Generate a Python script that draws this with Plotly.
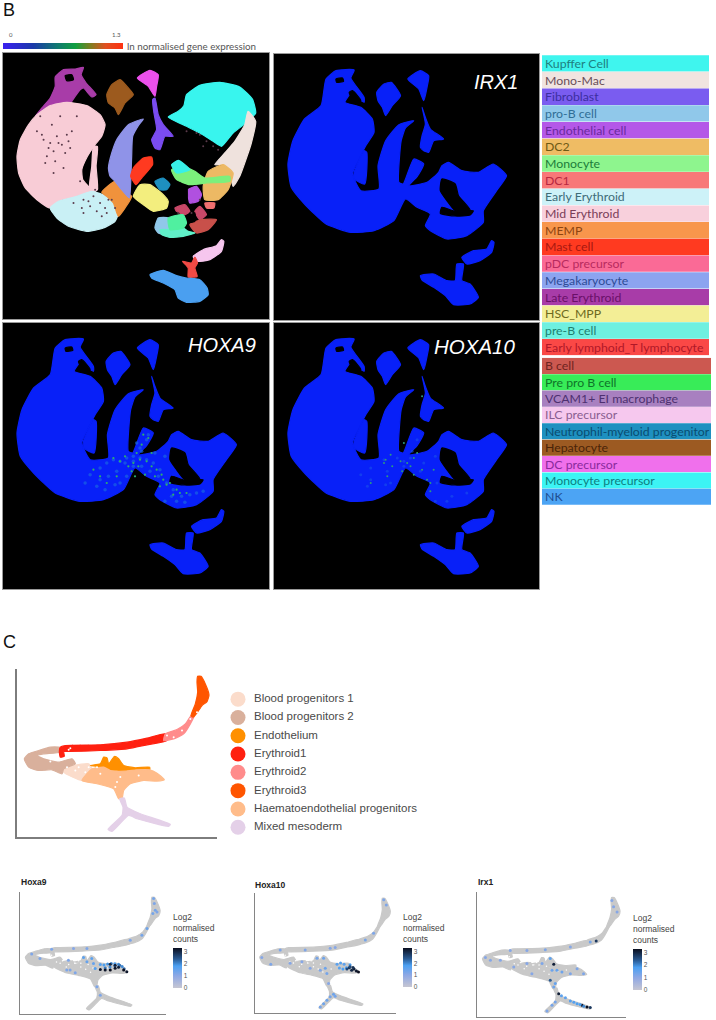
import plotly.graph_objects as go

PAGE_W = 716
PAGE_H = 1020

# ---- panel B, coloured map: outlines
kupffer = [(505,352),(535,335),(552,318),(560,285),(600,257),(660,248),(720,262),(758,298),(768,340),(745,365),(700,400),(665,440),(640,425),(600,400),(560,380)]
mono_mac = [(745,335),(768,365),(755,430),(742,470),(720,530),(700,560),(690,520),(670,495),(645,495),(675,460),(705,425),(735,375)]
fibroblast = [(455,420),(470,390),(462,340),(458,300),(465,295),(475,345),(490,375),(520,410),(495,410),(480,450),(465,445)]
pro_b = [(465,685),(475,655),(505,655),(510,690),(495,705),(475,700)]
endothelial = [(565,570),(590,560),(605,585),(595,605),(570,610)]
dc2 = [(610,560),(625,515),(670,495),(700,520),(685,570),(655,600),(615,600)]
monocyte = [(515,510),(550,500),(585,515),(615,535),(690,530),(690,545),(620,550),(570,555),(530,540)]
dc1 = [(615,610),(645,610),(642,625),(620,625)]
early_ery = [(150,625),(175,605),(230,590),(275,575),(320,590),(340,610),(355,640),(345,665),(310,685),(260,695),(205,680),(170,655)]
mid_ery = [(110,345),(150,318),(200,308),(260,318),(300,345),(315,375),(305,410),(285,435),(262,470),(245,510),(248,540),(275,575),(230,590),(175,605),(150,625),(110,600),(75,565),(55,520),(50,470),(60,420),(85,375)]
mid_ery_strip = [(280,440),(292,440),(288,500),(292,570),(275,580),(268,560),(275,500)]
memp = [(305,578),(345,545),(365,570),(395,590),(375,625),(355,650),(340,610),(320,590)]
mast = [(392,530),(400,505),(430,475),(455,472),(458,495),(425,535),(408,555)]
pdc_a = [(525,625),(555,615),(570,635),(555,645),(530,635)]
pdc_b = [(600,620),(620,645),(600,660),(585,635)]
mega = [(325,505),(335,460),(350,420),(385,375),(430,358),(415,378),(398,410),(395,470),(392,550),(388,595),(365,570),(345,545),(330,530)]
late_ery = [(105,350),(125,325),(150,295),(165,260),(165,232),(190,210),(225,208),(250,203),(243,225),(258,250),(288,285),(275,292),(250,265),(240,270),(225,290),(210,310),(150,320)]
hsc = [(400,590),(420,555),(450,555),(490,585),(505,605),(500,625),(460,635),(430,615)]
pre_b = [(480,690),(510,690),(550,685),(565,695),(585,700),(550,710),(510,713),(485,705)]
early_lymph = [(548,785),(575,790),(585,772),(593,790),(585,805),(592,830),(565,832),(565,805)]
b_cell = [(570,675),(605,660),(650,660),(625,690),(590,700)]
pre_pro_b = [(505,655),(550,645),(560,670),(550,685),(510,690)]
ilc = [(580,770),(610,750),(650,738),(665,720),(672,725),(665,755),(630,780),(590,785)]
neutrophil = [(465,545),(490,535),(510,555),(500,570),(480,570)]
hepatocyte = [(320,285),(335,255),(360,240),(385,265),(400,285),(375,310),(355,345),(345,325),(325,310)]
dc_prec = [(412,235),(450,212),(475,225),(470,260),(465,290),(445,260)]
mono_prec = [(515,495),(535,482),(555,495),(570,510),(530,520)]
nk = [(450,825),(490,812),(530,828),(560,835),(600,840),(622,865),(625,885),(600,905),(560,908),(535,895),(525,870),(490,850),(455,835)]

cell_types = ["Kupffer Cell","Mono-Mac","Fibroblast","pro-B cell","Endothelial cell","DC2","Monocyte","DC1",
              "Early Erythroid","Mid Erythroid","MEMP","Mast cell","pDC precursor","Megakaryocyte","Late Erythroid",
              "HSC_MPP","pre-B cell","Early lymphoid_T lymphocyte"]
cell_types_2 = ["B cell","Pre pro B cell","VCAM1+ EI macrophage","ILC precursor","Neutrophil-myeloid progenitor",
                "Hepatocyte","DC precursor","Monocyte precursor","NK"]
cell_colors = ["#3FF5EE","#F0E4E0","#7A5CF0","#90C8EA","#B458E8","#EFBC64","#8EF58E","#F87878",
               "#CDF2F8","#F8D0DC","#F8964C","#FF3A20","#FA6A96","#8CA4F0","#A83CA8",
               "#F3EE96","#6EF0E0","#FA4846"]
cell_colors_2 = ["#CC5850","#38EC58","#A880C0","#F6C8EE","#1E90C0","#9C5A22","#F070EC","#3CF4F4","#4CA4F4"]
label_colors = ["#1E7F80","#6A4E58","#3C2EA0","#2F6E96","#6A2A9E","#6E5A14","#1C7C3A","#B82840",
                "#3E6C78","#7A3E58","#8C4410","#A81810","#B82A5E","#2E4C96","#6A1068",
                "#6E6A20","#1E8070","#B01828"]
label_colors_2 = ["#6E2420","#0E7428","#4E3070","#8A5E90","#0A4C70","#4A2408","#8A2A9C","#0E7E80","#1E4C90"]

umap_outlines = [late_ery, mid_ery, mid_ery_strip, early_ery, memp, mega, mast, hsc, hepatocyte, dc_prec, fibroblast,
                 kupffer, mono_mac, dc2, monocyte, mono_prec, neutrophil, endothelial, dc1, pdc_a, pdc_b, b_cell,
                 pro_b, pre_b, pre_pro_b, ilc, early_lymph, nk]
umap_colors = ["#A83CA8","#F8CCD6","#F8CCD6","#C9F0F5","#F0923C","#8F93E8","#FF3A20","#F3EE7E","#9C5A1E","#EC50EC","#7A4CF0",
               "#38F5EE","#EFE2DD","#EDB964","#7CF07C","#38F0E8","#1E8FBF","#B050E0","#F07070","#C84868","#C84868","#C8504A",
               "#90C8EA","#60F0C8","#50F0A0","#F6C6EE","#F04A45","#4A9FF0"]

# dark gaps in the coloured map
speck_x = [110,125,150,160,175,185,200,215,140,165,190,205,120,230,155,180,240,250,265,280,300,315,325,250,290,305,
           270,285,600,620,640,590,655,610,560,535,600,575,130,145,170,195,210,135,160,320,335,345,220,245]
speck_y = [395,405,430,455,430,435,405,395,470,485,505,425,350,350,375,350,545,600,605,590,610,625,600,640,635,650,
           620,570,405,425,440,400,450,440,395,640,600,640,420,445,410,460,445,490,520,640,600,625,610,625]
hole_a = [(195,228),(215,225),(220,240),(200,243)]
hole_c = [(535,560),(560,560),(560,600),(530,615),(515,575)]
hole_d = [(570,640),(585,640),(585,665),(570,668)]
umap_holes = [hole_a, hole_c, hole_d]

# ---- panel B, gene maps
gene_body = [(165,85),(195,60),(250,58),(240,82),(280,140),(280,155),(240,130),(222,155),(270,170),(305,205),(310,245),
             (285,285),(262,330),(245,370),(270,420),(325,415),(322,345),(345,270),(385,222),(430,210),(405,232),(392,270),
             (385,395),(398,400),(430,325),(460,340),(440,378),(415,405),(470,395),(505,365),(515,345),(535,335),(575,360),
             (625,365),(670,340),(710,375),(680,420),(640,480),(640,515),(590,555),(530,565),(480,540),(465,525),(480,490),
             (440,470),(405,445),(370,510),(310,540),(240,545),(165,520),(100,460),(60,410),(50,340),(65,270),(100,205),(150,165)]
gene_hepatocyte = [(318,125),(340,100),(362,95),(390,135),(365,165),(345,195),(335,170),(322,150)]
gene_dc = [(412,85),(450,60),(475,75),(470,110),(460,150),(445,115)]
gene_fibro = [(450,290),(455,255),(465,220),(455,170),(465,200),(480,235),(520,265),(490,270),(475,305),(460,300)]
gene_ilc = [(575,620),(610,600),(650,595),(665,570),(672,575),(665,605),(630,630),(590,640)]
gene_nk = [(450,675),(490,670),(530,690),(555,690),(560,640),(580,640),(575,690),(600,700),(625,740),(600,760),(550,762),(525,735),(490,710),(455,688)]
gene_sliver = [(280,300),(288,305),(282,400),(250,385),(250,365)]
gene_outlines = [gene_body, gene_hepatocyte, gene_dc, gene_fibro, gene_ilc, gene_nk, gene_sliver]
gene_hole_a = [(515,385),(555,400),(565,435),(600,478),(555,480),(530,450),(510,420)]
gene_hole_b = [(195,85),(215,82),(218,92),(197,95)]
gene_hole_c = [(235,125),(245,120),(270,150),(250,155)]
gene_hole_d = [(515,470),(555,482),(610,480),(600,493),(555,496),(510,488)]
gene_holes = [gene_hole_a, gene_hole_b, gene_hole_c, gene_hole_d]

haze_x = [300,320,340,360,380,400,420,440,460,480,300,325,350,375,400,425,450,475,500,520,290,315,345,420,440,465,495,515,545,570,
          590,610,530,555,495,410,425,445,270,255,400,380,360]
haze_y = [445,430,420,425,415,410,415,420,430,450,480,470,455,430,440,440,455,470,490,510,500,510,495,385,360,400,410,530,530,525,
          520,515,545,548,545,370,395,345,465,490,425,470,490]

hoxa9_x = [340,360,385,400,420,440,455,470,490,500,430,410,375,350,320,300,280,520,540,395,435,465,485,510,445,425,405,480,530,560,455,415]
hoxa9_y = [415,425,440,430,420,425,440,450,480,495,345,400,410,470,490,470,450,525,520,455,465,470,465,490,355,375,470,500,510,520,400,440]
hoxa10_x = [345,360,390,410,430,455,480,490,400,365,350,455,480,395,430,340,300,440,420,470]
hoxa10_y = [420,405,425,430,415,230,515,450,370,440,470,450,490,455,465,430,490,400,440,480]

# ---- panel C, branching embedding
blood1 = [(190,430),(220,420),(265,415),(275,430),(255,450),(245,465),(190,440)]
blood2 = [(72,400),(85,385),(115,375),(150,365),(175,365),(190,370),(180,380),(130,385),(110,390),(130,400),(175,410),(215,400),(225,415),(190,430),(185,445),(155,433),(115,435),(85,425)]
endothelium = [(270,420),(300,415),(310,395),(320,397),(325,415),(342,393),(355,400),(370,420),(405,427),(448,425),(448,433),(410,433),(375,437),(330,435),(310,425)]
erythroid1 = [(195,360),(300,358),(380,350),(440,338),(495,325),(500,345),(440,358),(380,370),(300,375),(205,378),(190,378),(192,392),(180,395),(177,378),(180,365)]
erythroid2 = [(572,270),(585,262),(570,295),(550,325),(520,340),(490,345),(495,325),(530,312),(555,295)]
erythroid3 = [(592,152),(602,152),(615,175),(626,208),(620,228),(605,240),(590,262),(578,275),(572,270),(585,235),(592,200),(590,170)]
haemato = [(245,465),(275,430),(310,425),(330,435),(375,437),(410,433),(448,433),(470,443),(492,463),(470,467),(430,465),(390,475),(370,495),(365,520),(355,520),(340,490),(290,475)]
mesoderm = [(358,520),(372,518),(380,545),(420,565),(510,597),(505,603),(410,580),(385,570),(335,618),(323,612),(365,570),(368,545)]

lineages = ["Blood progenitors 1","Blood progenitors 2","Endothelium","Erythroid1","Erythroid2","Erythroid3",
            "Haematoendothelial progenitors","Mixed mesoderm"]
lineage_colors = ["#FBDCCB","#D9B09C","#FF9000","#FF2010","#FF8C8C","#FF5500","#FFBC8A","#E4D0E8"]
lineage_outlines = [blood1, blood2, endothelium, erythroid1, erythroid2, erythroid3, haemato, mesoderm]

white_x = [210,205,500,520,545,570,590,290,265,345,300,235,255,200,225,350,150,140,360,415]
white_y = [368,373,330,335,315,280,260,425,425,485,445,425,440,425,435,470,408,395,455,450]
grey_white_x = [150,170,200,225,250,275,300,320,350,240,215,260,290,330,375,410,130,180,300,340]
grey_white_y = [395,395,420,415,430,425,440,450,445,440,425,410,415,430,450,445,392,392,425,462]

# expression, counts per point, three genes
hoxa9_px = [599,602,606,613,596,572,551,503,180,270,325,98,132,249,311,325,345,352,359,242,277,256,366,380,
            380,395,410,425,440,455,470,400,420,440,460,478,
            380,400,421,441,455,476,489,441,421]
hoxa9_py = [157,178,206,213,219,281,309,330,367,364,364,387,405,412,401,419,405,426,447,453,464,453,522,557,
            430,432,428,426,427,429,438,445,440,436,433,448,
            451,453,453,446,442,453,460,433,429]
hoxa9_val = [1.3,1.2,1.3,1.2,1.3,1.4,1.3,1.2,1.2,1.1,1.2,1.2,1.2,1.2,1.6,1.5,1.6,1.5,1.7,1.2,1.2,1.2,1.2,1.2,
             1.7,1.8,1.9,2,1.8,2,2,2.1,2,2.2,2.2,2.3,
             3.2,3.2,3.3,3.2,3.1,3.3,3.2,3.1,3]

hoxa10_px = [329,343,357,371,385,392,364,598,609,555,520,392,371,159,265,81,119,201,251,315,343,350,357,329,286,
             400,415,430,440,455,410,425,
             442,452,462,472,482,491,455,468]
hoxa10_py = [610,596,581,567,556,565,511,158,180,299,328,359,363,370,370,401,430,426,419,405,405,447,469,455,447,
             430,425,430,445,432,446,450,
             450,445,455,450,458,462,440,444]
hoxa10_val = [1.3,1.4,1.4,1.3,1.4,1.3,1.1,1.2,1.2,1.2,1.3,1.1,1.1,1.2,1.2,1.1,1.2,1.1,1.1,1.3,1.4,1.4,1.3,1.2,1.1,
              1.6,1.7,1.6,1.8,1.9,1.7,1.8,
              2.6,2.8,3,3.1,3.2,3.3,2.6,2.9]

irx1_px = [473,493,506,379,359,530,345,406,426,453,332,352,365,359,365,345,352,372,392,426,453,479,312,251,184,251,325,104,84,144,198,271,426,506,600,614,593,
           390,440,465,480]
irx1_py = [588,595,597,541,422,328,487,557,570,581,611,588,574,514,500,399,446,446,453,460,440,460,419,419,366,366,363,406,395,406,433,460,352,332,190,211,164,
           549,575,584,592]
irx1_val = [3.2,3.3,2.8,3.1,3.1,2.8,2.4,1.6,1.7,1.8,1.2,1.3,1.3,1.4,1.5,1.6,1.4,1.5,1.4,1.2,1.2,1.2,1.2,1.1,1.1,1.1,1.2,1.1,1.1,1.1,1.1,1.1,1.1,1.3,1.1,1.1,1.1,
            1.6,1.7,1.8,2]

log2_scale = [[0,"#C6C6D2"],[0.3,"#8FA8E4"],[0.55,"#4CA0F2"],[0.72,"#2A5C96"],[1,"#0A0E1E"]]
expr_scale = [[0,"#3A20F0"],[0.25,"#1A3AA8"],[0.45,"#107A70"],[0.6,"#10A040"],[0.72,"#7A8020"],[0.85,"#E05020"],[1,"#FF3010"]]
expr_values = [0,0.13,0.26,0.39,0.52,0.65,0.78,0.91,1.04,1.17,1.3]

fig = go.Figure()
layout_axes = {}


def add_axes(n, left, top, right, bottom, xrange, yrange, **style):
    suffix = "" if n == 1 else str(n)
    base = dict(showgrid=False, zeroline=False, showticklabels=False, ticks="", anchor=f"y{suffix}")
    base.update(style)
    layout_axes[f"xaxis{suffix}"] = dict(base, domain=[left / PAGE_W, right / PAGE_W], range=xrange)
    base_y = dict(base, anchor=f"x{suffix}")
    layout_axes[f"yaxis{suffix}"] = dict(base_y, domain=[1 - bottom / PAGE_H, 1 - top / PAGE_H], range=yrange)


def axis_refs(n):
    return ("x", "y") if n == 1 else (f"x{n}", f"y{n}")


def add_blob(outline, color, n, smoothing=0.5):
    xref, yref = axis_refs(n)
    xs = [p[0] for p in outline] + [outline[0][0]]
    ys = [p[1] for p in outline] + [outline[0][1]]
    fig.add_trace(go.Scatter(x=xs, y=ys, mode="lines", fill="toself", fillcolor=color,
                             line=dict(color=color, width=1.2, shape="spline", smoothing=smoothing),
                             xaxis=xref, yaxis=yref, hoverinfo="skip", showlegend=False))


def add_points(xs, ys, color, size, n):
    xref, yref = axis_refs(n)
    fig.add_trace(go.Scatter(x=xs, y=ys, mode="markers", marker=dict(color=color, size=size, line=dict(width=0)),
                             xaxis=xref, yaxis=yref, hoverinfo="skip", showlegend=False))


frame = dict(showline=True, mirror=True, linecolor="#9a9a9a", linewidth=1)
add_axes(1, 3, 53, 269, 319, [8, 808], [958, 160], **frame)
add_axes(2, 274, 54, 539, 320, [8, 808], [808, 10], **frame)
add_axes(3, 3, 323, 269, 589, [8, 808], [808, 10], **frame)
add_axes(4, 274, 323, 539, 589, [8, 808], [808, 10], **frame)
add_axes(5, 542, 55, 709, 355.5, [0, 1], [17.5, -0.5])
add_axes(6, 542, 357.7, 711, 505, [0, 1], [8.5, -0.5])
add_axes(7, 3, 43, 123, 49, [0, 1.3], [-0.5, 0.5])
axis_c = dict(showline=True, linecolor="#7d7d7d", linewidth=2)
add_axes(8, 17, 669, 217, 837, [50, 650], [635, 130], **axis_c)
add_axes(9, 228, 690, 440, 836.4, [-10, 202], [7.5, -0.5])
axis_small = dict(showline=True, linecolor="#858585", linewidth=1)
add_axes(10, 20, 892, 166, 1014, [50, 650], [635, 130], **axis_small)
add_axes(11, 254.5, 893, 396, 1013, [50, 650], [635, 130], **axis_small)
add_axes(12, 477, 892, 626, 1017, [50, 650], [635, 130], **axis_small)

# coloured map
for outline, color in zip(umap_outlines, umap_colors):
    add_blob(outline, color, 1)
for hole in umap_holes:
    add_blob(hole, "#000000", 1)
add_points(speck_x, speck_y, "#5a3a4a", 2, 1)

# gene maps
for n in (2, 3, 4):
    for outline in gene_outlines:
        add_blob(outline, "#0820F8", n)
    for hole in gene_holes:
        add_blob(hole, "#000000", n)
add_points(haze_x, haze_y, "rgba(28,112,224,0.6)", 3.5, 3)
add_points(haze_x[::2], haze_y[::2], "rgba(28,90,232,0.5)", 3, 4)
add_points(hoxa9_x, hoxa9_y, "#2CB070", 2.2, 3)
add_points(hoxa10_x, hoxa10_y, "#2C9C80", 2, 4)

# legend bars
for n, names, colors, text_colors in ((5, cell_types, cell_colors, label_colors),
                                      (6, cell_types_2, cell_colors_2, label_colors_2)):
    xref, yref = axis_refs(n)
    fig.add_trace(go.Bar(y=list(range(len(names))), x=[1] * len(names), orientation="h",
                         marker=dict(color=colors, line=dict(width=0)), text=names,
                         textposition="inside", insidetextanchor="start", textangle=0, constraintext="none",
                         insidetextfont=dict(family="Lato", size=12.3, color=text_colors),
                         xaxis=xref, yaxis=yref, hoverinfo="skip", showlegend=False))

# expression key
fig.add_trace(go.Heatmap(z=[expr_values], x=expr_values, y=[0], colorscale=expr_scale, showscale=False, zsmooth="best",
                         xaxis="x7", yaxis="y7", hoverinfo="skip"))

# panel C main embedding and its key
for outline, color in zip(lineage_outlines, lineage_colors):
    add_blob(outline, color, 8)
add_points(white_x, white_y, "#ffffff", 2, 8)
fig.add_trace(go.Scatter(x=[0] * 8, y=list(range(8)), mode="markers",
                         marker=dict(color=lineage_colors, size=15, line=dict(width=0)),
                         xaxis="x9", yaxis="y9", hoverinfo="skip", showlegend=False))
fig.add_trace(go.Scatter(x=[16] * 8, y=list(range(8)), mode="text", text=lineages, textposition="middle right",
                         textfont=dict(family="Liberation Sans", size=11.5, color="#4a4a4a"),
                         xaxis="x9", yaxis="y9", hoverinfo="skip", showlegend=False))

# three small gene embeddings
gene_panels = [(10, hoxa9_px, hoxa9_py, hoxa9_val, 173, 911, 988),
               (11, hoxa10_px, hoxa10_py, hoxa10_val, 403, 911, 987),
               (12, irx1_px, irx1_py, irx1_val, 633, 912, 990)]
for n, px, py, val, bar_x, bar_top, bar_bottom in gene_panels:
    for outline in lineage_outlines:
        add_blob(outline, "#C9C9C9", n)
    add_points(grey_white_x, grey_white_y, "#ffffff", 1.5, n)
    xref, yref = axis_refs(n)
    fig.add_trace(go.Scatter(x=px, y=py, mode="markers",
                             marker=dict(size=3, color=val, colorscale=log2_scale, cmin=0, cmax=3.3, line=dict(width=0),
                                         colorbar=dict(x=bar_x / PAGE_W, xanchor="left", xpad=0, ypad=0,
                                                       y=1 - bar_bottom / PAGE_H, yanchor="bottom",
                                                       len=bar_bottom - bar_top, lenmode="pixels",
                                                       thickness=9, thicknessmode="pixels",
                                                       tickvals=[0, 1, 2, 3], ticks="", outlinewidth=0, borderwidth=0,
                                                       tickfont=dict(family="Liberation Sans", size=6.5, color="#555555"),
                                                       title=dict(text="Log2<br>normalised<br>counts", side="top",
                                                                  font=dict(family="Liberation Sans", size=8.5, color="#444444")))),
                             xaxis=xref, yaxis=yref, hoverinfo="skip", showlegend=False))

# text placed on the page
page_text = [("B", 1, 10, 18, "Liberation Sans", "#111111", "left"),
             ("C", 1, 642, 18, "Liberation Sans", "#111111", "left"),
             ("0", 11, 35, 6, "Lato", "#555555", "center"),
             ("1.3", 116, 35, 6, "Lato", "#555555", "center"),
             ("ln normalised gene expression", 125, 46, 9.8, "Lato", "#555555", "left"),
             ("<i>IRX1</i>", 520, 82, 20, "Liberation Sans", "#ffffff", "right"),
             ("<i>HOXA9</i>", 258, 345, 20, "Liberation Sans", "#ffffff", "right"),
             ("<i>HOXA10</i>", 517, 346, 20.5, "Liberation Sans", "#ffffff", "right"),
             ("<b>Hoxa9</b>", 19, 882, 8.5, "Liberation Sans", "#222222", "left"),
             ("<b>Hoxa10</b>", 253, 885, 8.5, "Liberation Sans", "#222222", "left"),
             ("<b>Irx1</b>", 476, 882, 8.5, "Liberation Sans", "#222222", "left")]
annotations = [dict(text=t, x=x / PAGE_W, y=1 - y / PAGE_H, xref="paper", yref="paper", xanchor=a, yanchor="middle",
                    showarrow=False, font=dict(family=f, size=s, color=c))
               for t, x, y, s, f, c, a in page_text]

panel_backs = [dict(type="rect", xref=f"x{'' if n == 1 else n} domain", yref=f"y{'' if n == 1 else n} domain",
                    x0=0, x1=1, y0=0, y1=1, fillcolor="#000000", line=dict(width=0), layer="below")
               for n in (1, 2, 3, 4)]

fig.update_layout(width=PAGE_W, height=PAGE_H, margin=dict(l=0, r=0, t=0, b=0), paper_bgcolor="#ffffff",
                  plot_bgcolor="#ffffff", bargap=0.02, annotations=annotations, shapes=panel_backs,
                  showlegend=False, **layout_axes)

fig.write_html("out.html", config=dict(displayModeBar=False),
               post_script="document.body.style.margin='0';document.body.style.overflow='hidden';")
